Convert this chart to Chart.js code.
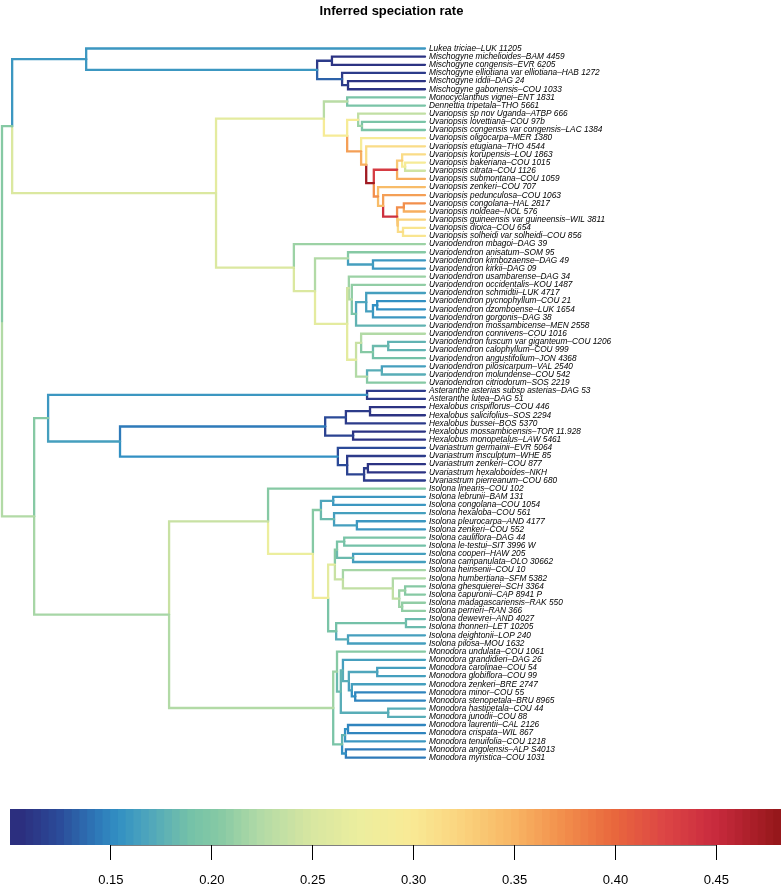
<!DOCTYPE html>
<html>
<head>
<meta charset="utf-8">
<script src="https://cdn.jsdelivr.net/npm/chart.js@4.4.1/dist/chart.umd.min.js"></script>
<style>
  body{margin:0;background:#fff;}
  canvas{display:block;}
</style>
</head>
<body>
<canvas id="treeChart" width="781" height="795"></canvas>
<canvas id="rateBar" width="781" height="94"></canvas>
<script>
// tip labels, top to bottom
const tipNames = [
  "Lukea triciae–LUK 11205",
  "Mischogyne michelioides–BAM 4459",
  "Mischogyne congensis–EVR 6205",
  "Mischogyne elliotiana var elliotiana–HAB 1272",
  "Mischogyne iddii–DAG 24",
  "Mischogyne gabonensis–COU 1033",
  "Monocyclanthus vignei–ENT 1831",
  "Dennettia tripetala–THO 5661",
  "Uvariopsis sp nov Uganda–ATBP 666",
  "Uvariopsis lovettiana–COU 97b",
  "Uvariopsis congensis var congensis–LAC 1384",
  "Uvariopsis oligocarpa–MER 1380",
  "Uvariopsis etugiana–THO 4544",
  "Uvariopsis korupensis–LOU 1863",
  "Uvariopsis bakeriana–COU 1015",
  "Uvariopsis citrata–COU 1126",
  "Uvariopsis submontana–COU 1059",
  "Uvariopsis zenkeri–COU 707",
  "Uvariopsis pedunculosa–COU 1063",
  "Uvariopsis congolana–HAL 2817",
  "Uvariopsis noldeae–NOL 576",
  "Uvariopsis guineensis var guineensis–WIL 3811",
  "Uvariopsis dioica–COU 654",
  "Uvariopsis solheidi var solheidi–COU 856",
  "Uvariodendron mbagoi–DAG 39",
  "Uvariodendron anisatum–SOM 95",
  "Uvariodendron kimbozaense–DAG 49",
  "Uvariodendron kirkii–DAG 09",
  "Uvariodendron usambarense–DAG 34",
  "Uvariodendron occidentalis–KOU 1487",
  "Uvariodendron schmidtii–LUK 4717",
  "Uvariodendron pycnophyllum–COU 21",
  "Uvariodendron dzomboense–LUK 1654",
  "Uvariodendron gorgonis–DAG 38",
  "Uvariodendron mossambicense–MEN 2558",
  "Uvariodendron connivens–COU 1016",
  "Uvariodendron fuscum var giganteum–COU 1206",
  "Uvariodendron calophyllum–COU 999",
  "Uvariodendron angustifolium–JON 4368",
  "Uvariodendron pilosicarpum–VAL 2540",
  "Uvariodendron molundense–COU 542",
  "Uvariodendron citriodorum–SOS 2219",
  "Asteranthe asterias subsp asterias–DAG 53",
  "Asteranthe lutea–DAG 51",
  "Hexalobus crispiflorus–COU 446",
  "Hexalobus salicifolius–SOS 2294",
  "Hexalobus bussei–BOS 5370",
  "Hexalobus mossambicensis–TOR 11.928",
  "Hexalobus monopetalus–LAW 5461",
  "Uvariastrum germainii–EVR 5064",
  "Uvariastrum insculptum–WHE 85",
  "Uvariastrum zenkeri–COU 877",
  "Uvariastrum hexaloboides–NKH",
  "Uvariastrum pierreanum–COU 680",
  "Isolona linearis–COU 102",
  "Isolona lebrunii–BAM 131",
  "Isolona congolana–COU 1054",
  "Isolona hexaloba–COU 561",
  "Isolona pleurocarpa–AND 4177",
  "Isolona zenkeri–COU 552",
  "Isolona cauliflora–DAG 44",
  "Isolona le-testui–SIT 3996 W",
  "Isolona cooperi–HAW 205",
  "Isolona campanulata–OLO 30662",
  "Isolona heinsenii–COU 10",
  "Isolona humbertiana–SFM 5382",
  "Isolona ghesquierei–SCH 3364",
  "Isolona capuronii–CAP 8941 P",
  "Isolona madagascariensis–RAK 550",
  "Isolona perrieri–RAN 366",
  "Isolona dewevrei–AND 4027",
  "Isolona thonneri–LET 10205",
  "Isolona deightonii–LOP 240",
  "Isolona pilosa–MOU 1632",
  "Monodora undulata–COU 1061",
  "Monodora grandidieri–DAG 26",
  "Monodora carolinae–COU 54",
  "Monodora globiflora–COU 99",
  "Monodora zenkeri–BRE 2747",
  "Monodora minor–COU 55",
  "Monodora stenopetala–BRU 8965",
  "Monodora hastipetala–COU 44",
  "Monodora junodii–COU 88",
  "Monodora laurentii–CAL 2126",
  "Monodora crispata–WIL 867",
  "Monodora tenuifolia–COU 1218",
  "Monodora angolensis–ALP S4013",
  "Monodora myristica–COU 1031"
]

// rate on each terminal branch (same order as tipNames)
const tipRates = [
  0.155, 0.105, 0.105, 0.11, 0.105, 0.105, 0.19, 0.19,
  0.23, 0.19, 0.19, 0.29, 0.31, 0.31, 0.29, 0.24, 0.35, 0.34,
  0.36, 0.37, 0.35, 0.32, 0.30, 0.30,
  0.21, 0.20, 0.155, 0.155, 0.21, 0.205, 0.16, 0.15, 0.15, 0.155, 0.175,
  0.22, 0.175, 0.175, 0.185, 0.16, 0.17, 0.20,
  0.11, 0.11, 0.105, 0.105, 0.11, 0.105, 0.105,
  0.12, 0.11, 0.105, 0.105, 0.11,
  0.20, 0.155, 0.155, 0.16, 0.155, 0.155, 0.19, 0.185, 0.16, 0.16,
  0.215, 0.22, 0.20, 0.20, 0.205, 0.205, 0.18, 0.18, 0.16, 0.16,
  0.20, 0.16, 0.16, 0.16, 0.16, 0.145, 0.145, 0.17, 0.17,
  0.145, 0.145, 0.155, 0.14, 0.14
]

// internal nodes: [node time (root 0, tips 1), rate of stem branch, ...children]
// a plain number is a tip (1-based position in tipNames)
const tree =
[0, 0,
  [0.024, 0.20,
    [0.199, 0.155, 1,
      [0.745, 0.155,
        [0.780, 0.11, 2, 3],
        [0.804, 0.13, 4, [0.818, 0.11, 5, 6]]]],
    [0.506, 0.25,
      [0.761, 0.26,
        [0.816, 0.225, 7, 8],
        [0.816, 0.29,
          [0.842, 0.29, 9, [0.851, 0.21, 10, 11]],
          [0.849, 0.36, 12,
            [0.861, 0.35, 13,
              [0.879, 0.47,
                [0.934, 0.43, [0.946, 0.33, 14, [0.953, 0.29, 15, 16]], 17],
                [0.889, 0.37, 18,
                  [0.901, 0.34, 19,
                    [0.934, 0.44,
                      [0.950, 0.37, 20, 21],
                      [0.936, 0.33, 22, [0.948, 0.31, 23, 24]]]]]]]]]],
      [0.690, 0.25, 25,
        [0.740, 0.25,
          [0.818, 0.22, 26, [0.877, 0.16, 27, 28]],
          [0.816, 0.26,
            [0.820, 0.24, 29,
              [0.827, 0.22, 30,
                [0.837, 0.19,
                  [0.861, 0.165, 31, [0.877, 0.16, [0.887, 0.15, 32, 33], 34]],
                  35]]],
            [0.837, 0.26,
              [0.849, 0.235, 36, [0.877, 0.20, [0.913, 0.18, 37, 38], 39]],
              [0.863, 0.22, [0.898, 0.17, 40, 41], 42]]]]]]],
  [0.076, 0.22,
    [0.109, 0.20,
      [0.863, 0.155, 43, 44],
      [0.279, 0.16,
        [0.764, 0.14,
          [0.813, 0.12, [0.870, 0.11, 45, 46], 47],
          [0.830, 0.115, 48, 49]],
        [0.794, 0.15, 50,
          [0.816, 0.12, 51, [0.856, 0.115, [0.865, 0.11, 52, 53], 54]]]]],
    [0.395, 0.215,
      [0.629, 0.235, 55,
        [0.735, 0.27,
          [0.754, 0.20,
            [0.783, 0.165, 56, 57],
            [0.785, 0.18, 58, [0.839, 0.16, 59, 60]]],
          [0.771, 0.28,
            [0.787, 0.26,
              [0.792, 0.20, [0.809, 0.19, 61, 62], [0.830, 0.18, 63, 64]],
              [0.806, 0.235, 65,
                [0.924, 0.23, 66,
                  [0.939, 0.23, [0.953, 0.21, 67, 68], [0.946, 0.21, 69, 70]]]]],
            [0.790, 0.19, [0.955, 0.185, 71, 72], [0.818, 0.17, 73, 74]]]]],
      [0.783, 0.22,
        [0.792, 0.21, 75,
          [0.801, 0.18,
            [0.806, 0.175, 76,
              [0.820, 0.17,
                [0.887, 0.165, 77, 78],
                [0.827, 0.16, 79, [0.835, 0.15, 80, 81]]]],
            [0.913, 0.17, 82, 83]]],
        [0.804, 0.19,
          [0.811, 0.175, [0.818, 0.15, 84, 85], 86],
          [0.813, 0.15, 87, 88]]]]]]

const rateTicks = [0.15, 0.20, 0.25, 0.30, 0.35, 0.40, 0.45]
const rateMin = 0.100
const rateMax = 0.482

// colour ramp of the rate legend
const rampStops = [
  [0.100, '#2c2c7c'], [0.120, '#2b4a98'], [0.140, '#2e7ab9'], [0.150, '#3290c3'],
  [0.165, '#4fa6bc'], [0.185, '#74c1a8'], [0.200, '#86c9a4'], [0.220, '#b2daa6'],
  [0.245, '#d7e6a1'], [0.270, '#ecee9e'], [0.295, '#f9ea95'], [0.320, '#fad37e'],
  [0.345, '#f8b664'], [0.370, '#f28f4c'], [0.395, '#e9683d'], [0.420, '#dd4645'],
  [0.445, '#c92b3e'], [0.465, '#a91e28'], [0.482, '#8c1414']
]

function hexRgb(h){
  return [1,3,5].map(i=>parseInt(h.substr(i,2),16))
}

function rateColor(v){
  if(v<=rampStops[0][0]) return rampStops[0][1]
  for(let i=1;i<rampStops.length;i++){
    const [v1,c1] = rampStops[i]
    if(v<=v1){
      const [v0,c0] = rampStops[i-1]
      const f = (v-v0)/(v1-v0)
      const a = hexRgb(c0), b = hexRgb(c1)
      const m = a.map((x,k)=>Math.round(x+(b[k]-x)*f))
      return `rgb(${m[0]},${m[1]},${m[2]})`
    }
  }
  return rampStops[rampStops.length-1][1]
}

// place nodes: tips at time 1, internal y = midpoint of first and last child
function place(node){
  if(typeof node==='number'){
    return {t:1, r:tipRates[node-1], y:node-1, kids:null}
  }
  const [t, r, ...children] = node
  const kids = children.map(place)
  return {t, r, y:(kids[0].y+kids[kids.length-1].y)/2, kids}
}

const branches = []
function collect(n){
  if(!n.kids) return
  n.kids.forEach(k=>{
    branches.push({
      data:[{x:n.t,y:n.y},{x:n.t,y:k.y},{x:k.t,y:k.y}],
      borderColor:rateColor(k.r)
    })
    collect(k)
  })
}
collect(place(tree))

const FONT = "'Liberation Sans', Arial, Helvetica, sans-serif"

new Chart(document.getElementById('treeChart'),{
  type:'scatter',
  data:{
    datasets:branches.map(b=>({
      data:b.data,
      showLine:true,
      borderColor:b.borderColor,
      borderWidth:2.3,
      borderCapStyle:'round',
      borderJoinStyle:'miter',
      pointRadius:0,
      pointHoverRadius:0,
      clip:false
    }))
  },
  options:{
    responsive:false,
    animation:false,
    devicePixelRatio:1,
    layout:{padding:{left:2,right:0,top:0,bottom:0}},
    plugins:{
      legend:{display:false},
      tooltip:{enabled:false},
      title:{
        display:true,
        text:'Inferred speciation rate',
        color:'#000',
        font:{family:FONT,size:13,weight:'bold'},
        padding:{top:4,bottom:6}
      }
    },
    scales:{
      x:{type:'linear',display:false,min:0,max:1},
      y:{
        type:'linear',
        position:'right',
        reverse:true,
        min:-2.81,
        max:91.59,
        grid:{display:false,drawTicks:false},
        border:{display:false},
        afterBuildTicks:(scale)=>{
          scale.ticks = tipNames.map((n,i)=>({value:i}))
        },
        afterFit:(scale)=>{
          scale.width = 356
          scale.paddingTop = 0
          scale.paddingBottom = 0
        },
        ticks:{
          autoSkip:false,
          padding:4,
          color:'#000',
          font:{family:FONT,size:8.3,style:'italic'},
          callback:(v)=>tipNames[v]
        }
      }
    }
  }
})

// legend colour bar, built from small bands over the rate range
const bandCount = 100
const bands = []
for(let i=0;i<bandCount;i++){
  const lo = rateMin+(rateMax-rateMin)*i/bandCount
  const hi = rateMin+(rateMax-rateMin)*(i+1)/bandCount
  bands.push({lo, hi, color:rateColor((lo+hi)/2)})
}

new Chart(document.getElementById('rateBar'),{
  type:'scatter',
  data:{
    datasets:[
      ...bands.map((b,i)=>({
        data:[{x:b.lo,y:0},{x:i<bandCount-1?bands[i+1].hi:b.hi,y:0}],
        showLine:true,
        borderColor:b.color,
        borderWidth:36,
        borderCapStyle:'butt',
        pointRadius:0,
        clip:false
      })),
      {
        data:[{x:rateTicks[0],y:-1},{x:rateTicks[rateTicks.length-1],y:-1}],
        showLine:true,
        borderColor:'#000',
        borderWidth:1,
        pointRadius:0,
        clip:false
      }
    ]
  },
  options:{
    responsive:false,
    animation:false,
    devicePixelRatio:1,
    layout:{padding:{left:10,right:0,top:14,bottom:0}},
    plugins:{legend:{display:false},tooltip:{enabled:false}},
    scales:{
      x:{
        type:'linear',
        min:rateMin,
        max:rateMax,
        border:{display:false},
        grid:{drawOnChartArea:false,drawTicks:true,tickLength:15,color:'#000',lineWidth:1},
        afterBuildTicks:(scale)=>{ scale.ticks = rateTicks.map(v=>({value:v})) },
        afterFit:(scale)=>{ scale.height = 44 },
        ticks:{
          padding:13,
          color:'#000',
          font:{family:FONT,size:13},
          maxRotation:0,
          callback:(v)=>v.toFixed(2)
        }
      },
      y:{type:'linear',display:false,min:-1,max:1}
    }
  }
})
</script>
</body>
</html>
